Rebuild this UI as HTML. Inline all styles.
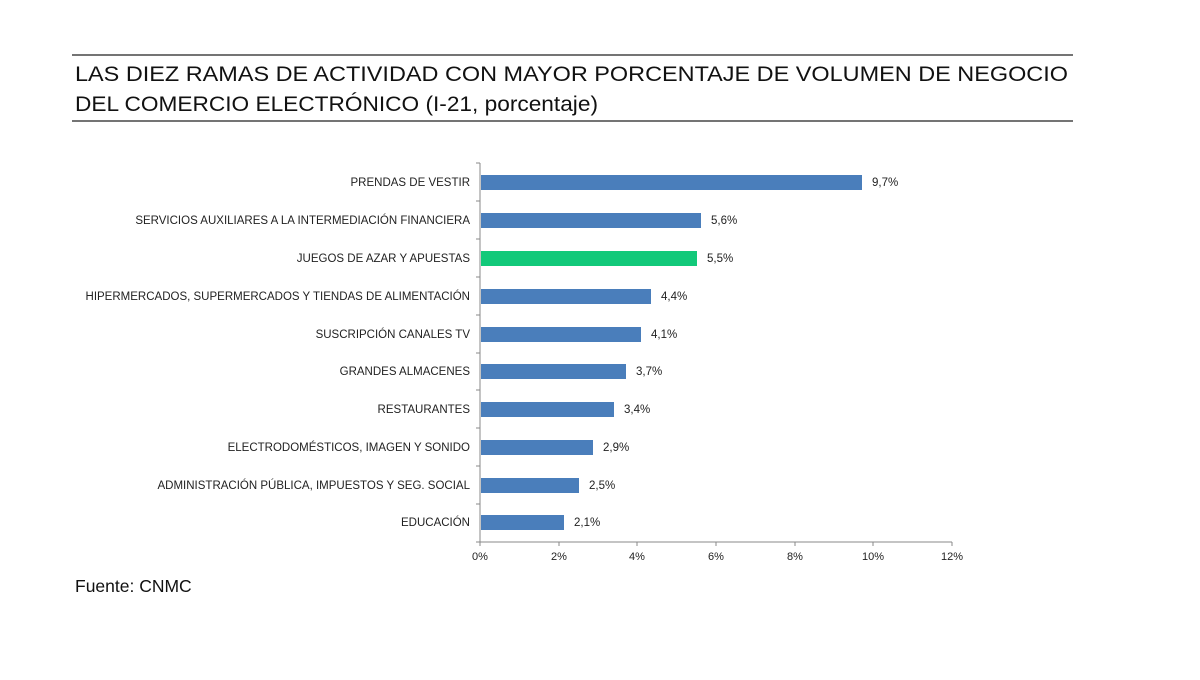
<!DOCTYPE html><html><head><meta charset="utf-8"><style>body{margin:0;background:#fff;width:1200px;height:675px;overflow:hidden}</style></head><body>
<svg width="1200" height="675" xmlns="http://www.w3.org/2000/svg" font-family="Liberation Sans, sans-serif">
<line x1="72" y1="55" x2="1073" y2="55" stroke="#222" stroke-width="1.2"/>
<line x1="72" y1="121" x2="1073" y2="121" stroke="#222" stroke-width="1.2"/>
<text x="75" y="81" font-size="21.5" fill="#111" textLength="993" lengthAdjust="spacingAndGlyphs">LAS DIEZ RAMAS DE ACTIVIDAD CON MAYOR PORCENTAJE DE VOLUMEN DE NEGOCIO</text>
<text x="75" y="111" font-size="21.5" fill="#111" textLength="523" lengthAdjust="spacingAndGlyphs">DEL COMERCIO ELECTRÓNICO (I-21, porcentaje)</text>
<text x="75" y="592" font-size="17.5" fill="#111">Fuente: CNMC</text>
<g stroke="#888" stroke-width="1">
<line x1="480" y1="163" x2="480" y2="542"/>
<line x1="480" y1="542" x2="952" y2="542"/>
<line x1="476" y1="163" x2="480" y2="163"/><line x1="476" y1="201" x2="480" y2="201"/><line x1="476" y1="239" x2="480" y2="239"/><line x1="476" y1="277" x2="480" y2="277"/><line x1="476" y1="315" x2="480" y2="315"/><line x1="476" y1="353" x2="480" y2="353"/><line x1="476" y1="390" x2="480" y2="390"/><line x1="476" y1="428" x2="480" y2="428"/><line x1="476" y1="466" x2="480" y2="466"/><line x1="476" y1="504" x2="480" y2="504"/><line x1="476" y1="542" x2="480" y2="542"/>
<line x1="480" y1="542" x2="480" y2="546"/><line x1="559" y1="542" x2="559" y2="546"/><line x1="637" y1="542" x2="637" y2="546"/><line x1="716" y1="542" x2="716" y2="546"/><line x1="795" y1="542" x2="795" y2="546"/><line x1="873" y1="542" x2="873" y2="546"/><line x1="952" y1="542" x2="952" y2="546"/>
</g>
<g font-size="11" fill="#222" text-anchor="middle">
<text x="480" y="560">0%</text><text x="559" y="560">2%</text><text x="637" y="560">4%</text><text x="716" y="560">6%</text><text x="795" y="560">8%</text><text x="873" y="560">10%</text><text x="952" y="560">12%</text>
</g>
<g fill="#4a7ebb">
<rect x="481" y="175" width="381" height="15"/>
<rect x="481" y="213" width="220" height="15"/>
<rect x="481" y="251" width="216" height="15" fill="#12c97a"/>
<rect x="481" y="289" width="170" height="15"/>
<rect x="481" y="327" width="160" height="15"/>
<rect x="481" y="364" width="145" height="15"/>
<rect x="481" y="402" width="133" height="15"/>
<rect x="481" y="440" width="112" height="15"/>
<rect x="481" y="478" width="98" height="15"/>
<rect x="481" y="515" width="83" height="15"/>
</g>
<g font-size="11.5" fill="#222">
<text x="872" y="186">9,7%</text><text x="711" y="224">5,6%</text><text x="707" y="262">5,5%</text><text x="661" y="300">4,4%</text><text x="651" y="338">4,1%</text><text x="636" y="375">3,7%</text><text x="624" y="413">3,4%</text><text x="603" y="451">2,9%</text><text x="589" y="489">2,5%</text><text x="574" y="526">2,1%</text>
</g>
<g font-size="11.5" fill="#222" text-anchor="end">
<text x="470" y="186">PRENDAS DE VESTIR</text>
<text x="470" y="224">SERVICIOS AUXILIARES A LA INTERMEDIACIÓN FINANCIERA</text>
<text x="470" y="262">JUEGOS DE AZAR Y APUESTAS</text>
<text x="470" y="300">HIPERMERCADOS, SUPERMERCADOS Y TIENDAS DE ALIMENTACIÓN</text>
<text x="470" y="338">SUSCRIPCIÓN CANALES TV</text>
<text x="470" y="375">GRANDES ALMACENES</text>
<text x="470" y="413">RESTAURANTES</text>
<text x="470" y="451">ELECTRODOMÉSTICOS,  IMAGEN Y SONIDO</text>
<text x="470" y="489">ADMINISTRACIÓN PÚBLICA, IMPUESTOS Y SEG. SOCIAL</text>
<text x="470" y="526">EDUCACIÓN</text>
</g>
</svg></body></html>
